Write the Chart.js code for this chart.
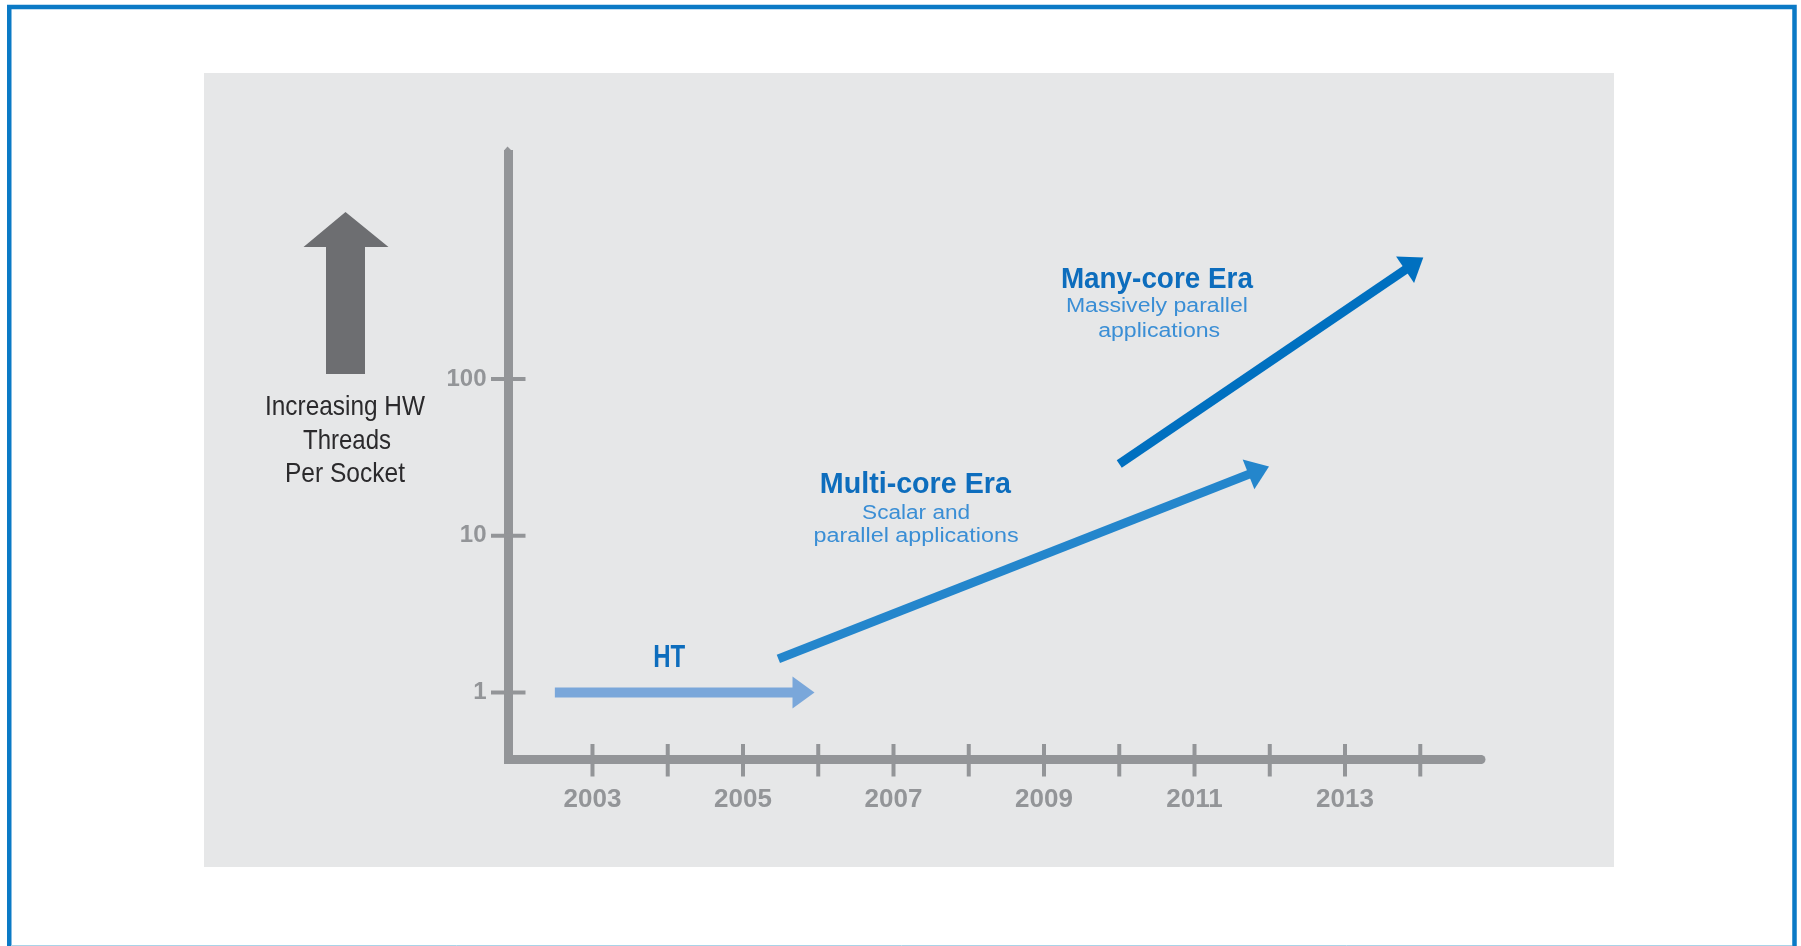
<!DOCTYPE html>
<html>
<head>
<meta charset="utf-8">
<script src="https://cdn.jsdelivr.net/npm/chart.js@4.4.1/dist/chart.umd.min.js"></script>
<style>
html,body{margin:0;padding:0;background:#fff;overflow:hidden}
canvas{display:block}
</style>
</head>
<body>
<canvas id="c" width="1801" height="946"></canvas>
<script>
// ---------------- data ----------------
const eraNames = ['HT', 'Multi-core Era', 'Many-core Era'];
const htYears = [2002.5, 2005.95];
const htThreads = [1, 1];
const multiYears = [2005.47, 2011.99];
const multiThreads = [1.64, 27.7];
const manyYears = [2010.0, 2014.04];
const manyThreads = [28.7, 596];
const xTickYears = [2003, 2004, 2005, 2006, 2007, 2008, 2009, 2010, 2011, 2012, 2013, 2014];
const xLabelYears = [2003, 2005, 2007, 2009, 2011, 2013];
const yTickValues = [1, 10, 100];
const yTitleLines = ['Increasing HW', 'Threads', 'Per Socket'];
const multiSubtitle = ['Scalar and', 'parallel applications'];
const manySubtitle = ['Massively parallel', 'applications'];

// ---------------- styles / layout ----------------
const FONT = '"Liberation Sans", Arial, Helvetica, sans-serif';
const FIT_FONT = '"Liberation Sans Narrow", "Liberation Sans", Arial, Helvetica, sans-serif';
const AXIS = '#939598';
const TITLE_BLUE = '#0d6dbd';
const SUB_BLUE = '#3a8ed5';
const X_MIN = 2001.884, X_MAX = 2014.807;
const Y_MIN = 0.3737, Y_MAX = 2725;
const HEAD_LEN = 22, HEAD_HALF = 16;

const annotationLayout = [
  {text: eraNames[0], x: 2004.02, y: 1.455, size: 32, weight: 'bold', color: TITLE_BLUE, width: 32},
  {text: eraNames[1], x: 2007.29, y: 18.74, size: 30, weight: 'bold', color: TITLE_BLUE, width: 191},
  {text: multiSubtitle[0], x: 2007.30, y: 12.79, size: 20, weight: 'normal', color: SUB_BLUE, width: 108},
  {text: multiSubtitle[1], x: 2007.30, y: 9.12, size: 20, weight: 'normal', color: SUB_BLUE, width: 205},
  {text: eraNames[2], x: 2010.50, y: 380.6, size: 30, weight: 'bold', color: TITLE_BLUE, width: 192},
  {text: manySubtitle[0], x: 2010.50, y: 267.6, size: 20, weight: 'normal', color: SUB_BLUE, width: 182},
  {text: manySubtitle[1], x: 2010.53, y: 185.3, size: 20, weight: 'normal', color: SUB_BLUE, width: 122}
];
const yTitleLayout = [
  {cx: 345, base: 415, width: 160},
  {cx: 347, base: 449, width: 88},
  {cx: 345, base: 482, width: 120}
];

function fitText(ctx, text, cx, base, width, size, weight, color) {
  ctx.save();
  ctx.font = weight + ' ' + size + 'px ' + FIT_FONT;
  const m = ctx.measureText(text).width;
  ctx.translate(cx, base);
  ctx.scale(width / m, 1);
  ctx.textAlign = 'center';
  ctx.textBaseline = 'alphabetic';
  ctx.fillStyle = color;
  ctx.fillText(text, 0, 0);
  ctx.restore();
}

function headGeom(meta) {
  const pts = meta.data;
  const p0 = pts[pts.length - 2], p1 = pts[pts.length - 1];
  const dx = p1.x - p0.x, dy = p1.y - p0.y, L = Math.hypot(dx, dy);
  const ux = dx / L, uy = dy / L;
  return {tip: p1, ux, uy, nx: -uy, ny: ux};
}

const decor = {
  id: 'decor',
  beforeDraw(chart) {
    const ctx = chart.ctx;
    ctx.save();
    ctx.fillStyle = '#ffffff';
    ctx.fillRect(0, 0, 1801, 946);
    // panel
    ctx.fillStyle = '#e6e7e8';
    ctx.fillRect(204, 73, 1410, 794);
    // frame
    ctx.strokeStyle = '#0b7ac6';
    ctx.lineWidth = 4.5;
    ctx.strokeRect(9.25, 7, 1785.25, 1000);
    ctx.strokeStyle = '#a9d3e8';
    ctx.lineWidth = 1;
    ctx.beginPath(); ctx.moveTo(11, 945.5); ctx.lineTo(1792, 945.5); ctx.stroke();
    // big gray arrow (axis-title symbol)
    ctx.fillStyle = '#6d6e71';
    ctx.beginPath();
    ctx.moveTo(326, 374); ctx.lineTo(326, 247); ctx.lineTo(303.5, 247);
    ctx.lineTo(345.5, 212); ctx.lineTo(388.5, 247); ctx.lineTo(365, 247);
    ctx.lineTo(365, 374); ctx.closePath(); ctx.fill();
    ctx.restore();
    yTitleLines.forEach((t, i) => {
      const l = yTitleLayout[i];
      fitText(ctx, t, l.cx, l.base, l.width, 28, 'normal', '#2b2a2c');
    });
  },
  beforeDatasetsDraw(chart) {
    const ctx = chart.ctx, xs = chart.scales.x, ys = chart.scales.y;
    const ax = ys.right, ay = xs.top;
    ctx.save();
    ctx.strokeStyle = AXIS;
    ctx.fillStyle = AXIS;
    ctx.lineWidth = 4;
    xTickYears.forEach(v => {
      const px = xs.getPixelForValue(v);
      ctx.beginPath(); ctx.moveTo(px, ay - 15.5); ctx.lineTo(px, ay + 17); ctx.stroke();
    });
    yTickValues.forEach(v => {
      const py = ys.getPixelForValue(v);
      ctx.beginPath(); ctx.moveTo(ax - 17.5, py); ctx.lineTo(ax + 17, py); ctx.stroke();
    });
    // rounded end of x axis
    ctx.beginPath(); ctx.arc(xs.right, ay, 4.5, 0, Math.PI * 2); ctx.fill();
    // pointed top of y axis
    ctx.beginPath();
    ctx.moveTo(ax - 4.5, ys.top - 3.5); ctx.lineTo(ax - 1, ys.top - 7.5);
    ctx.lineTo(ax + 4.5, ys.top - 2); ctx.lineTo(ax + 4.5, ys.top); ctx.lineTo(ax - 4.5, ys.top);
    ctx.closePath(); ctx.fill();
    ctx.restore();
  },
  beforeDatasetDraw(chart, args) {
    const ctx = chart.ctx;
    const g = headGeom(args.meta);
    const bx = g.tip.x - g.ux * (HEAD_LEN - 1), by = g.tip.y - g.uy * (HEAD_LEN - 1);
    ctx.save();
    ctx.beginPath();
    ctx.moveTo(bx + g.nx * 3000, by + g.ny * 3000);
    ctx.lineTo(bx + g.nx * 3000 - g.ux * 4000, by + g.ny * 3000 - g.uy * 4000);
    ctx.lineTo(bx - g.nx * 3000 - g.ux * 4000, by - g.ny * 3000 - g.uy * 4000);
    ctx.lineTo(bx - g.nx * 3000, by - g.ny * 3000);
    ctx.closePath();
    ctx.clip();
  },
  afterDatasetDraw(chart, args) {
    const ctx = chart.ctx;
    ctx.restore();
    const g = headGeom(args.meta);
    const ds = chart.data.datasets[args.index];
    const bx = g.tip.x - g.ux * HEAD_LEN, by = g.tip.y - g.uy * HEAD_LEN;
    ctx.save();
    ctx.fillStyle = ds.borderColor;
    ctx.beginPath();
    ctx.moveTo(g.tip.x, g.tip.y);
    ctx.lineTo(bx + g.nx * HEAD_HALF, by + g.ny * HEAD_HALF);
    ctx.lineTo(bx - g.nx * HEAD_HALF, by - g.ny * HEAD_HALF);
    ctx.closePath();
    ctx.fill();
    ctx.restore();
  },
  afterDatasetsDraw(chart) {
    const ctx = chart.ctx, xs = chart.scales.x, ys = chart.scales.y;
    annotationLayout.forEach(a => {
      fitText(ctx, a.text, xs.getPixelForValue(a.x), ys.getPixelForValue(a.y), a.width, a.size, a.weight, a.color);
    });
  }
};

function series(xv, yv) { return xv.map((x, i) => ({x: x, y: yv[i]})); }

new Chart(document.getElementById('c'), {
  type: 'line',
  data: {
    datasets: [
      {label: eraNames[0], data: series(htYears, htThreads), borderColor: '#7aa7da', borderWidth: 10},
      {label: eraNames[1], data: series(multiYears, multiThreads), borderColor: '#2486cc', borderWidth: 9},
      {label: eraNames[2], data: series(manyYears, manyThreads), borderColor: '#0070c0', borderWidth: 9}
    ]
  },
  options: {
    responsive: false,
    animation: false,
    devicePixelRatio: 1,
    clip: false,
    layout: {padding: {left: 408.5, top: 154, right: 320, bottom: 86.5}},
    plugins: {legend: {display: false}, tooltip: {enabled: false}},
    elements: {
      point: {radius: 0, hoverRadius: 0},
      line: {tension: 0, borderCapStyle: 'butt', fill: false}
    },
    scales: {
      x: {
        type: 'linear', min: X_MIN, max: X_MAX,
        afterBuildTicks: s => { s.ticks = xTickYears.map(v => ({value: v})); },
        afterFit: s => { s.height = 100; },
        grid: {display: false, drawTicks: false},
        border: {display: true, color: AXIS, width: 9},
        ticks: {
          autoSkip: false, maxRotation: 0, minRotation: 0, padding: 24.4, color: AXIS,
          font: {family: FONT, size: 26, weight: 'bold'},
          callback: v => xLabelYears.includes(v) ? String(v) : ''
        }
      },
      y: {
        type: 'logarithmic', min: Y_MIN, max: Y_MAX,
        afterBuildTicks: s => { s.ticks = yTickValues.map(v => ({value: v})); },
        afterFit: s => { s.width = 100; },
        grid: {display: false, drawTicks: false},
        border: {display: true, color: AXIS, width: 9},
        ticks: {
          padding: 22, color: AXIS,
          font: {family: FONT, size: 24, weight: 'bold'},
          callback: v => String(v)
        }
      }
    }
  },
  plugins: [decor]
});
</script>
</body>
</html>
